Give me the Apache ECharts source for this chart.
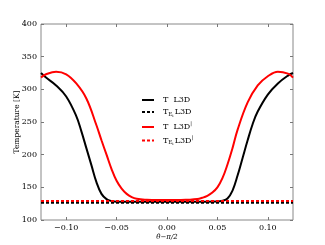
<!DOCTYPE html>
<html><head><meta charset="utf-8">
<script src="https://cdn.jsdelivr.net/npm/echarts@6/dist/echarts.min.js"></script>
<style>html,body{margin:0;padding:0;background:#fff}#c{width:325px;height:245px}</style>
</head><body><div id="c"></div>
<script>
const xTicks = [-0.10, -0.05, 0.00, 0.05, 0.10];
const blackX = [-0.125,-0.12,-0.11,-0.10,-0.09,-0.085,-0.08,-0.075,-0.07,-0.065,-0.06,-0.055,-0.05,0,0.05,0.055,0.06,0.065,0.07,0.075,0.08,0.085,0.09,0.10,0.11,0.12,0.125];
const blackT = [325,318,306,289,259,236,210,184,158,140,132,129,128,128,128.5,129.5,133,145,168,195,222,247,266,292,309,321,325];
const redX = [-0.125,-0.12,-0.11,-0.10,-0.09,-0.08,-0.07,-0.065,-0.06,-0.055,-0.05,-0.045,-0.04,-0.035,-0.03,-0.02,-0.01,0,0.01,0.02,0.03,0.035,0.04,0.045,0.05,0.055,0.06,0.065,0.07,0.08,0.09,0.10,0.11,0.12,0.125];
const redT = [318,323,327,323,309,286,245,222,200,178,160,148,140,135,132.5,131,130.5,130.5,130.5,131,132,134,137,142,150,164,185,210,238,280,306,320,327,324,318];
const tE_black = 126.5;
const tE_red = 129;
const xEnds = [-0.125, 0.125];
const names = ['T L3D','TE L3D','T L3D|','TE L3D|'];

const pair = (xs, ys) => xs.map((x,i)=>[x,ys[i]]);
const flat = (v) => xEnds.map(x=>[x,v]);
const serif = 'DejaVu Serif';
const fmtX = v => { const s = Math.abs(v).toFixed(2); return v < -1e-9 ? '\u2212'+s : s; };

const chart = echarts.init(document.getElementById('c'), null, {renderer:'canvas'});
const tickCommon = {show:true, inside:true, length:3, lineStyle:{color:'#777', width:1}};
const noLine = {show:false, onZero:false};
chart.setOption({
  animation:false,
  backgroundColor:'#fff',
  grid:{left:41, right:32, top:24, bottom:25, outerBoundsMode:'none', containLabel:false, show:true, borderColor:'#888', borderWidth:1, backgroundColor:'transparent'},
  legend:{
    left:136, top:91, orient:'vertical', itemWidth:12, itemHeight:8, itemGap:4,
    data:names,
    itemStyle:{opacity:0},
    formatter: function(n){
      const map = {
        'T L3D':'{f|T}{m|  L3D}',
        'TE L3D':'{f|T}{s|E}{ss|i}{m|L3D}',
        'T L3D|':'{f|T}{m|  L3D}{sup||}',
        'TE L3D|':'{f|T}{s|E}{ss|i}{m|L3D}{sup||}'
      };
      return map[n];
    },
    textStyle:{fontFamily:serif, fontSize:8, color:'#000',
      rich:{
        f:{fontFamily:serif, fontSize:8, color:'#000', padding:[0,0,0,4]},
        m:{fontFamily:serif, fontSize:8, color:'#000'},
        s:{fontFamily:serif, fontSize:5.5, color:'#000', padding:[5,0,0,0]},
        ss:{fontFamily:serif, fontSize:4, color:'#000', padding:[7,1,0,0]},
        sup:{fontFamily:serif, fontSize:5, color:'#000', padding:[0,0,6,0]}
      }}
  },
  xAxis:[{
    type:'value', min:-0.125, max:0.125, position:'bottom',
    axisLine:noLine, splitLine:{show:false},
    axisTick:Object.assign({customValues:xTicks}, tickCommon),
    axisLabel:{customValues:xTicks, formatter:fmtX, fontFamily:serif, fontSize:8, color:'#000', margin:4},
    name:'θ−π/2', nameLocation:'middle', nameGap:14, nameMoveOverlap:false,
    nameTextStyle:{fontFamily:serif, fontSize:7, color:'#000', fontStyle:'italic'}
  },{
    type:'value', min:-0.125, max:0.125, position:'top',
    axisLine:noLine, splitLine:{show:false},
    axisTick:Object.assign({customValues:xTicks}, tickCommon),
    axisLabel:{show:false}
  }],
  yAxis:[{
    type:'value', min:100, max:400, interval:50, position:'left',
    axisLine:noLine, splitLine:{show:false},
    axisTick:tickCommon,
    axisLabel:{fontFamily:serif, fontSize:8, color:'#000', margin:4},
    name:'Temperature [K]', nameLocation:'middle', nameGap:20, nameRotate:90, nameMoveOverlap:false,
    nameTextStyle:{fontFamily:serif, fontSize:7.5, color:'#000'}
  },{
    type:'value', min:100, max:400, interval:50, position:'right',
    axisLine:noLine, splitLine:{show:false},
    axisTick:tickCommon, axisLabel:{show:false}
  }],
  series:[
    {name:names[0], type:'line', data:pair(blackX, blackT), smooth:0.4, symbol:'none', color:'#000', lineStyle:{color:'#000', width:2}},
    {name:names[1], type:'line', data:flat(tE_black), symbol:'none', color:'#000', lineStyle:{color:'#000', width:2, type:[3,2]}},
    {name:names[2], type:'line', data:pair(redX, redT), smooth:0.4, symbol:'none', color:'#f00', lineStyle:{color:'#f00', width:2}},
    {name:names[3], type:'line', data:flat(tE_red), symbol:'none', color:'#f00', lineStyle:{color:'#f00', width:2, type:[3,2]}}
  ]
});
</script></body></html>
